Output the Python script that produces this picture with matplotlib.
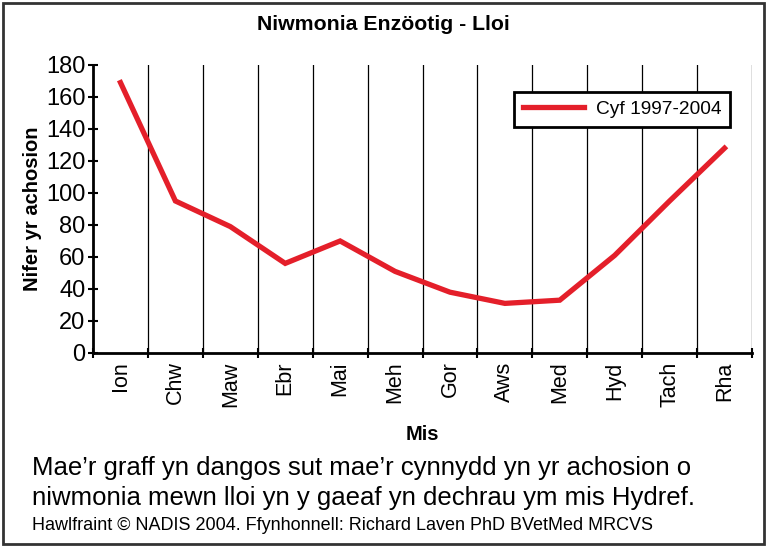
import matplotlib
matplotlib.use('Agg')
import matplotlib.pyplot as plt
from matplotlib.patches import Rectangle

# Data
misoedd = ['Ion', 'Chw', 'Maw', 'Ebr', 'Mai', 'Meh', 'Gor', 'Aws', 'Med', 'Hyd', 'Tach', 'Rha']
achosion = [169, 95, 79, 56, 70, 51, 38, 31, 33, 61, 95, 128]
yticks = [0, 20, 40, 60, 80, 100, 120, 140, 160, 180]

plt.rcParams['font.family'] = ['Liberation Sans', 'DejaVu Sans']

fig = plt.figure(figsize=(7.67, 5.47), dpi=100)
ax = fig.add_axes([0.1213, 0.3547, 0.9804 - 0.1213, 0.8812 - 0.3547])

x = [i + 0.5 for i in range(len(misoedd))]
ax.plot(x, achosion, color='#e41f2a', lw=3.8, solid_joinstyle='miter',
        label='Cyf 1997-2004')

ax.set_xlim(0, 12)
ax.set_ylim(0, 180)
ax.set_yticks(yticks)
ax.set_xticks(range(13))
ax.set_xticklabels([])
ax.set_xticks(x, minor=True)
ax.set_xticklabels(misoedd, minor=True, rotation=90, fontsize=15.5)
ax.tick_params(axis='x', which='minor', length=0, pad=6)
ax.tick_params(axis='x', which='major', direction='inout', length=7, width=1.5)
ax.tick_params(axis='y', direction='inout', length=7, width=1.5, labelsize=17, pad=2)

for i in range(1, 13):
    ax.axvline(i, color='black', lw=0.9, zorder=0)

for s in ['top', 'right']:
    ax.spines[s].set_visible(False)
for s in ['left', 'bottom']:
    ax.spines[s].set_linewidth(2)

ax.set_ylabel('Nifer yr achosion', fontsize=14.5, fontweight='bold', labelpad=3)
ax.set_xlabel('Mis', fontsize=14.5, fontweight='bold', labelpad=13)

leg = ax.legend(loc='upper right', bbox_to_anchor=(0.981, 0.94), fancybox=False,
                framealpha=1, edgecolor='black', fontsize=13.8, handlelength=3.2,
                borderpad=0.45, handletextpad=0.6)
leg.get_frame().set_linewidth(2)

fig.text(0.5, 0.955, 'Niwmonia Enzöotig - Lloi', ha='center', va='center',
         fontsize=15.3, fontweight='bold')
fig.text(0.042, 0.145, 'Mae\u2019r graff yn dangos sut mae\u2019r cynnydd yn yr achosion o',
         ha='left', va='center', fontsize=18.5)
fig.text(0.042, 0.089, 'niwmonia mewn lloi yn y gaeaf yn dechrau ym mis Hydref.',
         ha='left', va='center', fontsize=18.5)
fig.text(0.042, 0.039, 'Hawlfraint \u00a9 NADIS 2004. Ffynhonnell: Richard Laven PhD BVetMed MRCVS',
         ha='left', va='center', fontsize=13)

fig.add_artist(Rectangle((0.004, 0.005), 0.992, 0.99, transform=fig.transFigure,
                         fill=False, edgecolor='#333333', lw=2))

plt.savefig('out.png', dpi=100)
